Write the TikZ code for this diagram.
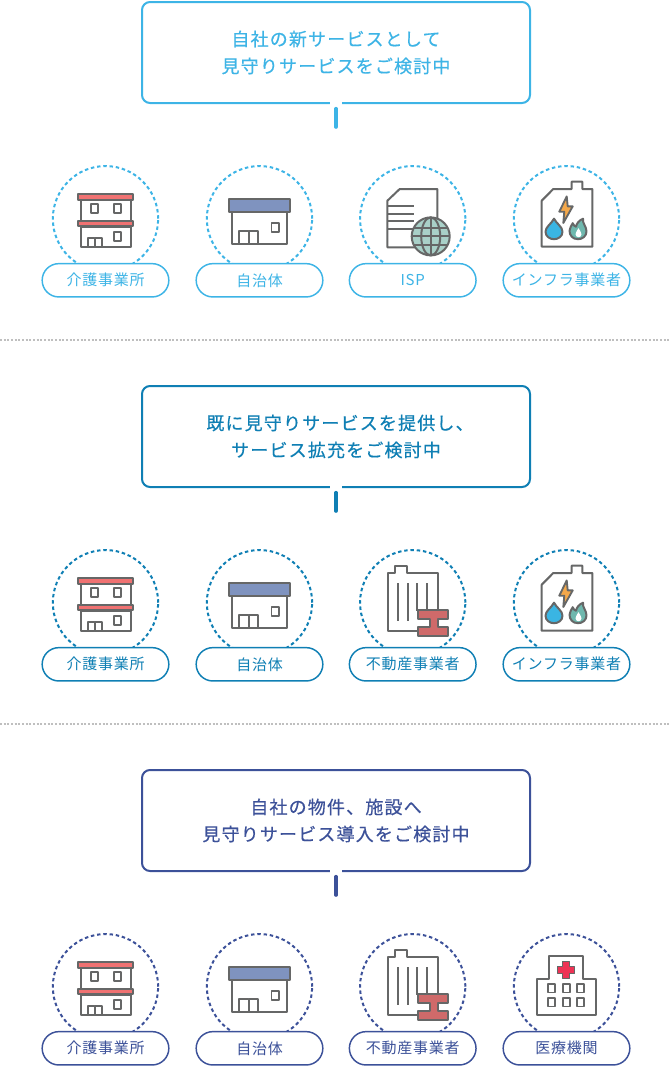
\documentclass[tikz,border=0pt]{standalone}
\usepackage{fontspec}
\newfontfamily\jptitle[LetterSpace=6.5,FakeBold=0.45]{Noto Sans CJK JP}
\newfontfamily\jplabel[LetterSpace=5]{Noto Sans CJK JP}
\definecolor{svcsky}{HTML}{3DB4E6}
\definecolor{svcsea}{HTML}{0F7FB4}
\definecolor{svcnavy}{HTML}{3C5199}
\definecolor{icongray}{HTML}{666767}
\definecolor{roofred}{HTML}{F07272}
\definecolor{roofblue}{HTML}{7F93BF}
\definecolor{globeteal}{HTML}{A9D0C8}
\definecolor{flameteal}{HTML}{6FB8AE}
\definecolor{boltorange}{HTML}{F4A84A}
\definecolor{dropblue}{HTML}{3AB5E3}
\definecolor{beamred}{HTML}{CF6A6A}
\definecolor{crossred}{HTML}{EE3355}
\tikzset{
    icon/.style={draw=icongray,line width=1.5pt,line join=round,fill=white},
    thin icon/.style={draw=icongray,line width=1.4pt,line join=round,fill=white},
    titlebox/.style={draw,fill=white,rounded corners=6pt,line width=1.5pt,minimum width=291pt,
        minimum height=75.75pt,inner sep=0pt,align=center,font=\fontsize{13.5pt}{20.25pt}\jptitle},
    svcring/.style={circle,draw,dash pattern=on 2.6pt off 2.1pt,line width=1.5pt,
        minimum size=79pt,inner sep=0pt},
    svcpill/.style={draw,fill=white,rounded corners=12.5pt,line width=1.1pt,minimum width=95pt,
        minimum height=25pt,inner sep=0pt,font=\fontsize{11.25pt}{13pt}\jplabel},
    link/.style={line width=2.7pt,line cap=round},
    gap/.style={draw=white,line width=3pt},
    sepline/.style={draw=black!25,line width=.8pt,dash pattern=on 1.5pt off 1.25pt},
    % icons, origin at the centre of the ring, same units as the picture
    pics/care/.style={code={
        \draw[icon] (-25,-19) rectangle (25,2);
        \draw[icon] (-25,8) rectangle (25,28.5);
        \draw[icon,fill=roofred] (-27.5,-24.5) rectangle (27.5,-19);
        \draw[icon,fill=roofred] (-27.5,2) rectangle (27.5,7.5);
        \draw[thin icon] (-14.5,-15) rectangle (-7.2,-6);
        \draw[thin icon] (8.2,-15) rectangle (15.5,-6);
        \draw[thin icon] (8.2,13) rectangle (15.5,22);
        \draw[thin icon] (-17.8,19) rectangle (-3.8,28.5);
        \draw[thin icon] (-10.8,19) -- (-10.8,28.5);
    }},
    pics/town/.style={code={
        \draw[icon] (-28,-7) rectangle (27.5,25.5);
        \draw[icon,fill=roofblue] (-30.5,-19.7) rectangle (30,-7);
        \draw[thin icon] (12,4.3) rectangle (19.5,13.7);
        \draw[icon] (-20.5,12) rectangle (-1.2,25.5);
        \draw[icon] (-10.8,12) -- (-10.8,25.5);
    }},
    pics/isp/.style={code={
        \draw[icon] (-25.3,-18) -- (-13,-29.7) -- (24.7,-29.7) -- (24.7,28.7) -- (-25.3,28.7) -- cycle;
        \foreach \ly in {-12.3,-4.7,2.7,10.3}
            \draw[icon] (-25.3,\ly) -- (1,\ly);
        \draw[icon,fill=globeteal] (18,17.7) circle (19);
        \draw[icon,fill=none] (18,17.7) ellipse (9.5 and 19);
        \draw[icon] (18,-1.3) -- (18,36.7);
        \draw[icon] (-1,17.7) -- (37,17.7);
        \draw[icon] (1,9.2) -- (35,9.2);
        \draw[icon] (1,26.2) -- (35,26.2);
    }},
    pics/fuel/.style={code={
        \draw[icon] (-24.8,-18) -- (-13.2,-29.7) -- (5.2,-29.7) -- (5.2,-37) -- (15.8,-37)
            -- (15.8,-29.7) -- (25.8,-29.7) -- (25.8,28) -- (-24.8,28) -- cycle;
        \draw[thin icon,fill=boltorange] (0.2,-22.3) -- (-7.2,-7) -- (-2.2,-7) -- (-3.2,4.3)
            -- (6.2,-12.3) -- (1.2,-12.3) -- cycle;
        \draw[icon,fill=dropblue] (-12.5,0) .. controls (-10,5) and (-4,8) .. (-4,13)
            .. controls (-4,17.5) and (-8,20.5) .. (-12.5,20.5)
            .. controls (-17,20.5) and (-21,17.5) .. (-21,13)
            .. controls (-21,8) and (-15,5) .. (-12.5,0) -- cycle;
        \draw[icon,fill=flameteal] (11.5,20.5) .. controls (6,20.5) and (3,16.5) .. (3,12)
            .. controls (3,9.5) and (5,7) .. (6.2,4.5) .. controls (7,6.5) and (8,7.5) .. (9.5,8)
            .. controls (10,4.5) and (13,1.5) .. (16.5,0) .. controls (15.5,4) and (20,8) .. (20,12.5)
            .. controls (20,17.5) and (16,20.5) .. (11.5,20.5) -- cycle;
        \fill[white] (12,9.5) .. controls (13,12) and (15,13) .. (15,15.5)
            .. controls (15,17.5) and (13.5,18.5) .. (12,18.5)
            .. controls (10.5,18.5) and (9,17.5) .. (9,15.5)
            .. controls (9,13) and (11,12) .. (12,9.5) -- cycle;
    }},
    pics/estate/.style={code={
        \draw[icon] (-25,-30) -- (-17.3,-30) -- (-17.3,-37) -- (-5.3,-37) -- (-5.3,-30)
            -- (25.3,-30) -- (25.3,28) -- (-25,28) -- cycle;
        \draw[icon] (-15,-19.3) -- (-15,18);
        \draw[icon] (-5,-19.3) -- (-5,18);
        \draw[icon] (4.7,-19.3) -- (4.7,8);
        \draw[icon] (14.7,-19.3) -- (14.7,8);
        \draw[icon,fill=beamred] (5.3,7.3) -- (35.3,7.3) -- (35.3,16.3) -- (25.3,16.3) -- (25.3,24.7)
            -- (35.3,24.7) -- (35.3,33) -- (5.3,33) -- (5.3,24.7) -- (17.7,24.7) -- (17.7,16.3)
            -- (5.3,16.3) -- cycle;
    }},
    pics/clinic/.style={code={
        \draw[icon] (-29.2,-7.7) -- (-17.2,-7.7) -- (-17.2,-30.3) -- (16.8,-30.3) -- (16.8,-7.7)
            -- (29.5,-7.7) -- (29.5,28.3) -- (-29.2,28.3) -- cycle;
        \foreach \wx in {-18.2,-3.2,10.8}
            \foreach \wy in {-2.7,11.3}
                \draw[thin icon] (\wx,\wy) rectangle ++(6.7,8.5);
        \draw[thin icon,fill=crossred] (-4,-25.2) -- (3,-25.2) -- (3,-20.2) -- (8,-20.2) -- (8,-13.2)
            -- (3,-13.2) -- (3,-8.2) -- (-4,-8.2) -- (-4,-13.2) -- (-9,-13.2) -- (-9,-20.2)
            -- (-4,-20.2) -- cycle;
    }},
}
\begin{document}
\begin{tikzpicture}[x=.75pt,y=-.75pt]
\useasboundingbox (0,0) rectangle (671,1067);

% first row
\node[titlebox,draw=svcsky,text=svcsky] (newbox) at (336,52.5) {自社の新サービスとして\\見守りサービスをご検討中};
\coordinate (newend) at (336,127);
\draw[gap] ([xshift=-4.7pt,yshift=.8pt]newbox.south) -- ([xshift=4.7pt,yshift=.8pt]newbox.south);
\draw[link,svcsky] ([yshift=-3.5pt]newbox.south) -- (newend);
\foreach \lbl/\cx/\icn [count=\i] in {介護事業所/105.5/care,自治体/259.5/town,ISP/412.7/isp,インフラ事業者/566.5/fuel}{
    \node[svcring,draw=svcsky] (newring\i) at (\cx,218.7) {};
    \pic at (\cx,218.7) {\icn};
    \node[svcpill,draw=svcsky,text=svcsky] (newpill\i) at (\cx,280.3) {\raisebox{-.8pt}{\lbl}};
}

\draw[sepline] (0,340) -- (671,340);

% second row
\begin{scope}[yshift=-288pt]
\node[titlebox,draw=svcsea,text=svcsea] (addbox) at (336,52.5) {\hspace{6pt}既に見守りサービスを提供し、\\サービス拡充をご検討中};
\coordinate (addend) at (336,127);
\draw[gap] ([xshift=-4.7pt,yshift=.8pt]addbox.south) -- ([xshift=4.7pt,yshift=.8pt]addbox.south);
\draw[link,svcsea] ([yshift=-3.5pt]addbox.south) -- (addend);
\foreach \lbl/\cx/\icn [count=\i] in {介護事業所/105.5/care,自治体/259.5/town,不動産事業者/412.7/estate,インフラ事業者/566.5/fuel}{
    \node[svcring,draw=svcsea] (addring\i) at (\cx,218.7) {};
    \pic at (\cx,218.7) {\icn};
    \node[svcpill,draw=svcsea,text=svcsea] (addpill\i) at (\cx,280.3) {\raisebox{-.8pt}{\lbl}};
}
\draw[sepline] (0,340) -- (671,340);
\end{scope}

% third row
\begin{scope}[yshift=-576pt]
\node[titlebox,draw=svcnavy,text=svcnavy] (ownbox) at (336,52.5) {自社の物件、施設へ\\見守りサービス導入をご検討中};
\coordinate (ownend) at (336,127);
\draw[gap] ([xshift=-4.7pt,yshift=.8pt]ownbox.south) -- ([xshift=4.7pt,yshift=.8pt]ownbox.south);
\draw[link,svcnavy] ([yshift=-3.5pt]ownbox.south) -- (ownend);
\foreach \lbl/\cx/\icn [count=\i] in {介護事業所/105.5/care,自治体/259.5/town,不動産事業者/412.7/estate,医療機関/566.5/clinic}{
    \node[svcring,draw=svcnavy] (ownring\i) at (\cx,218.7) {};
    \pic at (\cx,218.7) {\icn};
    \node[svcpill,draw=svcnavy,text=svcnavy] (ownpill\i) at (\cx,280.3) {\raisebox{-.8pt}{\lbl}};
}
\end{scope}
\end{tikzpicture}
\end{document}
